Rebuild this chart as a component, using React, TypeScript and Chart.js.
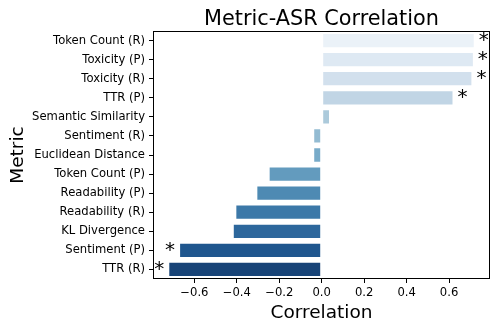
import React, { useEffect, useRef } from "react";
import { Chart, registerables } from "chart.js";

Chart.register(...registerables);

const METRICS = [
  "Token Count (R)",
  "Toxicity (P)",
  "Toxicity (R)",
  "TTR (P)",
  "Semantic Similarity",
  "Sentiment (R)",
  "Euclidean Distance",
  "Token Count (P)",
  "Readability (P)",
  "Readability (R)",
  "KL Divergence",
  "Sentiment (P)",
  "TTR (R)",
];
const CORRELATIONS = [0.721, 0.717, 0.71, 0.621, 0.039, -0.04, -0.04, -0.25, -0.308, -0.407, -0.419, -0.672, -0.723];
const SIGNIFICANT = [true, true, true, true, false, false, false, false, false, false, false, true, true];
const X_TICKS = [-0.6, -0.4, -0.2, 0, 0.2, 0.4, 0.6];
const X_TICK_LABELS = ["\u22120.6", "\u22120.4", "\u22120.2", "0.0", "0.2", "0.4", "0.6"];
const X_MIN = -0.795;
const X_MAX = 0.793;
const BAR_COLORS = [
  "#ebf2f8",
  "#dee9f3",
  "#d2e0ed",
  "#c1d5e5",
  "#accadb",
  "#93bbd2",
  "#78abc9",
  "#639bbe",
  "#4e8ab3",
  "#3c78a8",
  "#2d679c",
  "#1f568e",
  "#184477",
];
const TITLE = "Metric-ASR Correlation";
const X_TITLE = "Correlation";
const Y_TITLE = "Metric";
const FONT = "'DejaVu Sans', sans-serif";

const decorPlugin = {
  id: "decor",
  afterDatasetsDraw(chart: any) {
    const { ctx, chartArea, scales } = chart;
    const xs = scales.x;
    const ys = scales.y;
    ctx.save();
    // frame
    ctx.strokeStyle = "#000";
    ctx.lineWidth = 1;
    ctx.strokeRect(chartArea.left + 0.5, chartArea.top + 0.5, chartArea.right - chartArea.left - 1, chartArea.bottom - chartArea.top - 1);
    // significance stars
    ctx.fillStyle = "#000";
    ctx.font = `20px ${FONT}`;
    ctx.textBaseline = "middle";
    CORRELATIONS.forEach((v, i) => {
      if (!SIGNIFICANT[i]) return;
      const px = xs.getPixelForValue(v);
      const py = ys.getPixelForValue(i);
      if (v >= 0) {
        ctx.textAlign = "left";
        ctx.fillText("*", px + 4, py);
      } else {
        ctx.textAlign = "right";
        ctx.fillText("*", px - 4, py);
      }
    });
    const cx = (chartArea.left + chartArea.right) / 2;
    // title
    ctx.textAlign = "center";
    ctx.textBaseline = "alphabetic";
    ctx.font = `20.8px ${FONT}`;
    ctx.fillText(TITLE, cx, 25);
    // x title
    ctx.font = `18.5px ${FONT}`;
    ctx.fillText(X_TITLE, cx, 317.5);
    // y title
    ctx.translate(23, (chartArea.top + chartArea.bottom) / 2);
    ctx.rotate(-Math.PI / 2);
    ctx.fillText(Y_TITLE, 0, 0);
    ctx.restore();
  },
};

export default function App() {
  const ref = useRef<HTMLCanvasElement | null>(null);
  useEffect(() => {
    if (!ref.current) return;
    const chart = new Chart(ref.current, {
      type: "bar",
      data: {
        labels: METRICS,
        datasets: [
          {
            data: CORRELATIONS,
            backgroundColor: BAR_COLORS,
            borderColor: "rgba(255,255,255,0.55)",
            borderWidth: 1,
            borderSkipped: false,
            barPercentage: 0.8,
            categoryPercentage: 1,
          },
        ],
      },
      options: {
        indexAxis: "y",
        responsive: false,
        animation: false,
        devicePixelRatio: 1,
        layout: { padding: { left: 0, top: 31, right: 9, bottom: 0 } },
        plugins: { legend: { display: false }, tooltip: { enabled: false }, title: { display: false } },
        scales: {
          x: {
            type: "linear",
            min: X_MIN,
            max: X_MAX,
            afterBuildTicks: (scale: any) => {
              scale.ticks = X_TICKS.map((v) => ({ value: v }));
            },
            afterFit: (scale: any) => {
              scale.height = 51;
            },
            grid: { display: true, drawOnChartArea: false, drawTicks: true, tickLength: 4, color: "#000" },
            border: { display: false },
            ticks: {
              color: "#000",
              font: { family: FONT, size: 11.6 },
              padding: 3,
              maxRotation: 0,
              autoSkip: false,
              callback: (_v: any, i: number) => X_TICK_LABELS[i],
            },
          },
          y: {
            type: "category",
            afterFit: (scale: any) => {
              scale.width = 153;
            },
            grid: { display: true, offset: false, drawOnChartArea: false, drawTicks: true, tickLength: 4, color: "#000" },
            border: { display: false },
            ticks: {
              color: "#000",
              font: { family: FONT, size: 11.6 },
              padding: 4,
              autoSkip: false,
            },
          },
        },
      },
      plugins: [decorPlugin],
    } as any);
    return () => chart.destroy();
  }, []);
  return (
    <div style={{ position: "absolute", left: 0, top: 0, width: 499, height: 330, background: "#fff" }}>
      <canvas ref={ref} width={499} height={330} style={{ width: 499, height: 330 }} />
    </div>
  );
}
